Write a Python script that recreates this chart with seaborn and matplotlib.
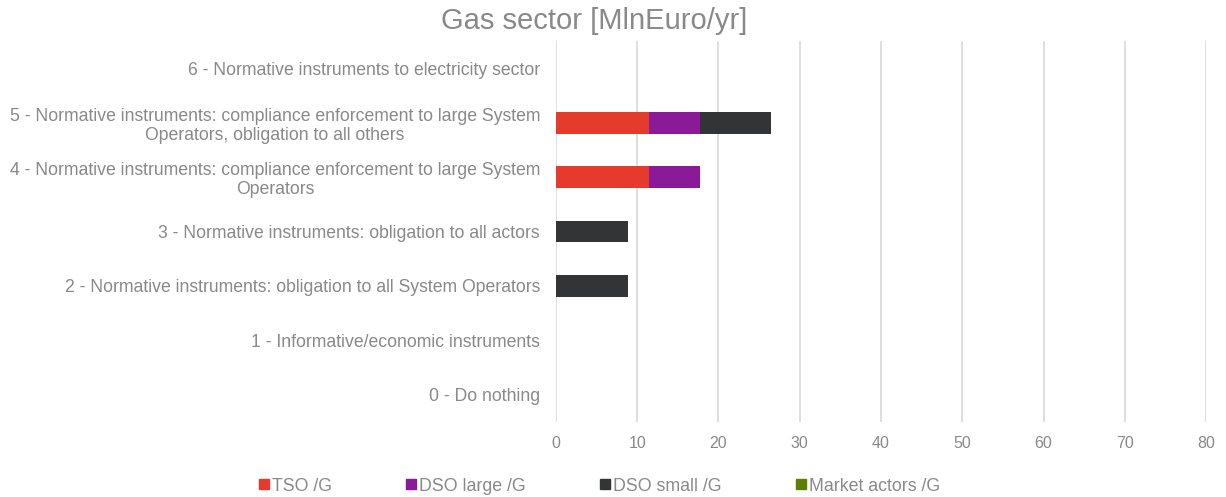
import matplotlib
matplotlib.use("Agg")
import matplotlib.pyplot as plt
from matplotlib.lines import Line2D
import seaborn as sns
import numpy as np
import pandas as pd

categories = [
    "6 - Normative instruments to electricity sector",
    "5 - Normative instruments: compliance enforcement to large System\nOperators, obligation to all others",
    "4 - Normative instruments: compliance enforcement to large System\nOperators",
    "3 - Normative instruments: obligation to all actors",
    "2 - Normative instruments: obligation to all System Operators",
    "1 - Informative/economic instruments",
    "0 - Do nothing",
]
series_names = ["TSO /G", "DSO large /G", "DSO small /G", "Market actors /G"]
tso = [0, 11.45, 11.45, 0, 0, 0, 0]
dso_large = [0, 6.23, 6.23, 0, 0, 0, 0]
dso_small = [0, 8.83, 0, 8.83, 8.83, 0, 0]
market = [0, 0, 0, 0, 0, 0, 0]
colors = ["#E53B2C", "#8B1A98", "#333436", "#5B7F00"]
xticks = [0, 10, 20, 30, 40, 50, 60, 70, 80]

sns.set_theme(style="white")
plt.rcParams["font.family"] = ["Liberation Sans", "DejaVu Sans"]
text_color = "#898989"

fig = plt.figure(figsize=(12.26, 4.97), dpi=100)
ax = fig.add_axes([0.4535, 0.151, 0.5302, 0.7665])

vals = np.array([tso, dso_large, dso_small, market])
cum = np.cumsum(vals, axis=0)
for i in range(len(series_names) - 1, -1, -1):
    df = pd.DataFrame({"cat": categories, "val": cum[i]})
    sns.barplot(data=df, x="val", y="cat", order=categories, orient="h",
                color=colors[i], saturation=1, width=0.4, ax=ax,
                edgecolor="none", linewidth=0, zorder=3)

ax.set_xlim(0, 80)
ax.set_xticks(xticks)
ax.set_xticklabels([str(t) for t in xticks])
ax.set_xlabel("")
ax.set_ylabel("")
ax.grid(axis="x", color="#D9D9D9", linewidth=1.2, zorder=0)
ax.grid(axis="y", visible=False)
for s in ax.spines.values():
    s.set_visible(False)
ax.tick_params(axis="x", length=0, labelsize=11.5, colors=text_color, pad=10)
ax.tick_params(axis="y", length=0, labelsize=12.7, colors=text_color, pad=11.5)
for lab in ax.get_yticklabels():
    lab.set_multialignment("center")
    lab.set_linespacing(1.15)

fig.text(0.485, 0.958, "Gas sector [MlnEuro/yr]", ha="center", va="center",
         fontsize=21, color=text_color)

handles = [Line2D([], [], marker="s", linestyle="none", markersize=7.5,
                  markerfacecolor=c, markeredgecolor=c) for c in colors]
leg = fig.legend(handles, series_names, loc="center", bbox_to_anchor=(0.488, 0.022),
                 ncol=4, frameon=False, fontsize=12.8, handletextpad=0.0,
                 columnspacing=4.0, handlelength=0.9, labelcolor=text_color)

fig.savefig("out.png", dpi=100)
